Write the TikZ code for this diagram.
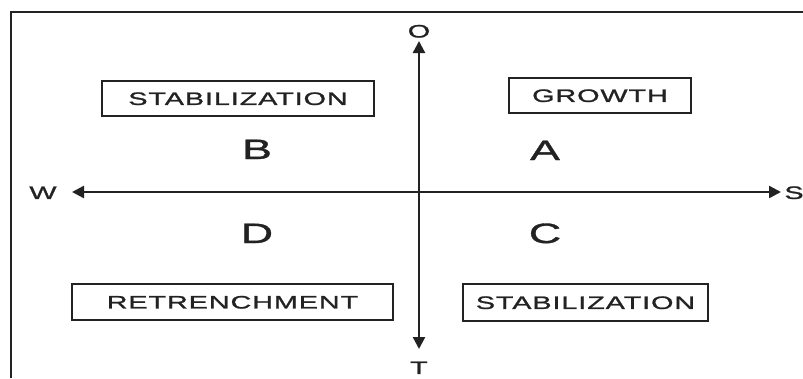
\documentclass[tikz,border=0pt]{standalone}
\usepackage{fontspec}
\setmainfont{Liberation Sans}
\newfontfamily\widefont[FakeStretch=1.6,LetterSpace=5,FakeBold=1.3]{Liberation Sans}
\usetikzlibrary{arrows.meta}
\definecolor{ink}{HTML}{222222}
\tikzset{
  frameline/.style={draw=ink,line width=2pt},
  axisline/.style={draw=ink,line width=2.4pt,{Triangle[length=12pt,width=12pt]}-{Triangle[length=12pt,width=12pt]}},
  stratbox/.style={draw=ink,line width=2.2pt,inner sep=0pt,text height=12.9pt,text depth=0pt,
    font=\widefont\fontsize{18pt}{18pt}\selectfont,text=ink},
  quad/.style={inner sep=0pt,text height=20pt,text depth=0pt,font=\widefont\fontsize{28pt}{28pt}\selectfont,text=ink},
  axlabel/.style={inner sep=0pt,text height=12.9pt,text depth=0pt,font=\widefont\fontsize{18pt}{18pt}\selectfont,text=ink}
}
\begin{document}
\begin{tikzpicture}[x=1pt,y=-1pt]
\useasboundingbox (0,0) rectangle (803,378);
% frame (top and left edges)
\coordinate (fbl) at (11,378);
\coordinate (ftl) at (11,12);
\coordinate (ftr) at (803,12);
\draw[frameline] (fbl) -- (ftl) -- (ftr);
% axes
\coordinate (ntop) at (419,41);
\coordinate (nbot) at (419,349);
\coordinate (nleft) at (72,192);
\coordinate (nright) at (781,192);
\draw[axisline] (nbot) -- (ntop);
\draw[axisline] (nleft) -- (nright);
% axis labels
\node[axlabel] (O) at (419,31) {O};
\node[axlabel] (T) at (419,367.5) {T};
\node[axlabel] (W) at (43,192.5) {W};
\node[axlabel] (S) at (794,192.5) {S};
% boxes
\node[stratbox,minimum width=272pt,minimum height=35pt] (stab1) at (238,98.5) {STABILIZATION};
\node[stratbox,minimum width=182pt,minimum height=35pt] (grow) at (600,95.5) {GROWTH};
\node[stratbox,minimum width=321pt,minimum height=36pt] (retr) at (232.5,302) {RETRENCHMENT};
\node[stratbox,minimum width=245pt,minimum height=37pt] (stab2) at (585.5,302.5) {STABILIZATION};
% quadrant letters
\node[quad] (B) at (257,149) {B};
\node[quad] (A) at (545,150) {A};
\node[quad] (D) at (257,233) {D};
\node[quad] (C) at (545,233) {C};
\end{tikzpicture}
\end{document}
